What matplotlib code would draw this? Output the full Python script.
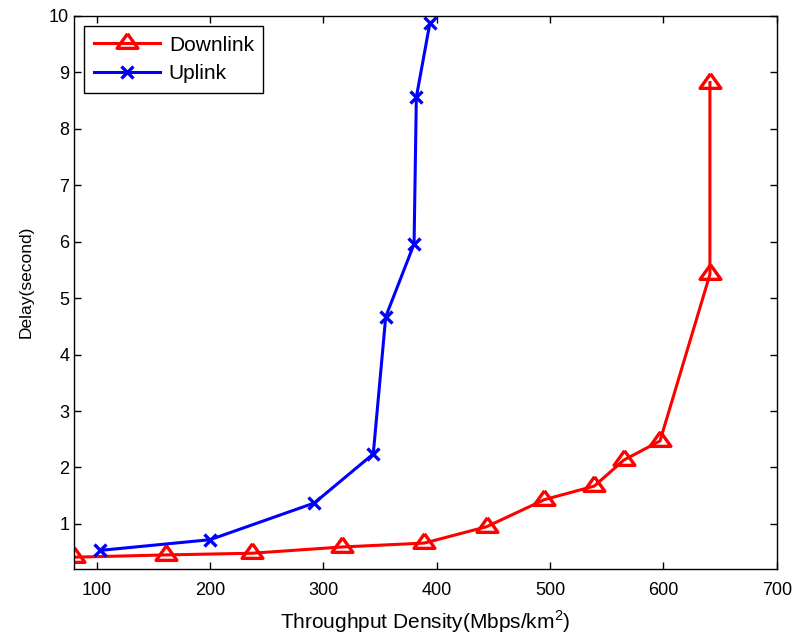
import numpy as np
import matplotlib.pyplot as plt

# Delay vs throughput density
down_x = [80, 161, 237, 316, 389, 444, 495, 539, 565, 597, 641, 641]
down_y = [0.41, 0.45, 0.48, 0.59, 0.66, 0.95, 1.43, 1.67, 2.13, 2.47, 5.42, 8.82]
up_x = [103, 200, 292, 344, 355, 380, 382, 394]
up_y = [0.53, 0.72, 1.37, 2.24, 4.67, 5.96, 8.56, 9.88]
x_ticks = [100, 200, 300, 400, 500, 600, 700]
y_ticks = [1, 2, 3, 4, 5, 6, 7, 8, 9, 10]

plt.rcParams['font.family'] = ['Liberation Sans', 'DejaVu Sans']
plt.rcParams['mathtext.fontset'] = 'custom'
plt.rcParams['mathtext.rm'] = 'Liberation Sans'

# flat triangle centred on its centroid, like the matlab marker
tri = [(0, 0.933), (-1, -0.467), (1, -0.467), (0, 0.933)]

fig = plt.figure(figsize=(7.95, 6.37), dpi=100)
ax = fig.add_axes([0.0931, 0.1067, 0.884, 0.8682])

ax.plot(down_x, down_y, color='red', lw=2.2, marker=tri, ms=15,
        mfc='none', mew=2.4, label='Downlink')
ax.plot(up_x, up_y, color='blue', lw=2.2, marker='x', ms=8,
        mew=2.4, label='Uplink')

ax.set_xlim(80, 700)
ax.set_ylim(0.2, 10)
ax.set_xticks(x_ticks)
ax.set_yticks(y_ticks)
ax.tick_params(direction='in', top=True, right=True, length=5,
               labelsize=13, width=1)
ax.tick_params(axis='x', pad=9)
for s in ax.spines.values():
    s.set_linewidth(1)

ax.set_xlabel('Throughput Density(Mbps/km$^2$)', fontsize=15, labelpad=7)
ax.set_ylabel('Delay(second)', fontsize=12.5)
ax.yaxis.set_label_coords(-0.058, 0.52)

leg = ax.legend(loc='upper left', fontsize=15, fancybox=False,
                framealpha=1, edgecolor='black', handlelength=3.2,
                handletextpad=0.4, labelspacing=0.45, borderpad=0.45,
                borderaxespad=0.5)
leg.get_frame().set_linewidth(1)

fig.savefig('out.png', dpi=100)
